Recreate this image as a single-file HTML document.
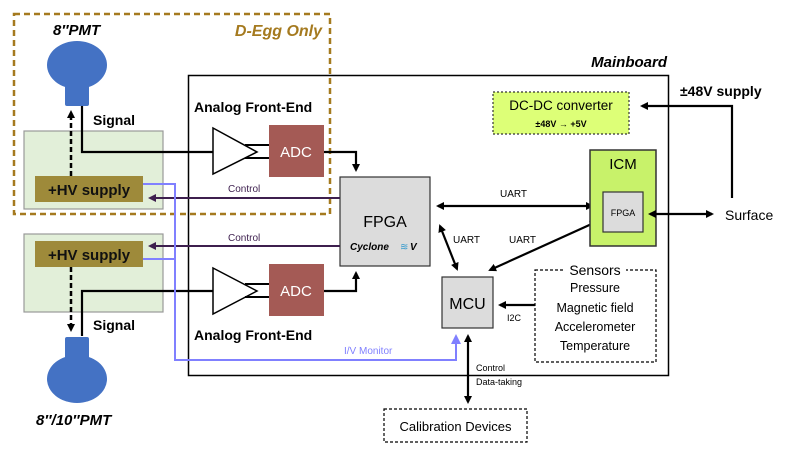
<!DOCTYPE html>
<html><head><meta charset="utf-8"><style>
html,body{margin:0;padding:0;background:#fff;}
svg{display:block;font-family:"Liberation Sans",sans-serif;}
</style></head><body>
<svg width="789" height="456" viewBox="0 0 789 456" xmlns="http://www.w3.org/2000/svg">
<defs>
<marker id="ab" markerWidth="8" markerHeight="8" refX="6" refY="4" orient="auto-start-reverse" markerUnits="userSpaceOnUse"><path d="M0,0 L8,4 L0,8 z" fill="#000"/></marker>
<marker id="ap" markerWidth="8" markerHeight="8" refX="6" refY="4" orient="auto-start-reverse" markerUnits="userSpaceOnUse"><path d="M0,0 L8,4 L0,8 z" fill="#3d1f4e"/></marker>
<marker id="abl" markerWidth="10" markerHeight="10" refX="7" refY="5" orient="auto" markerUnits="userSpaceOnUse"><path d="M0,0 L10,5 L0,10 z" fill="#8080ff"/></marker>
</defs>

<rect x="188.5" y="75.5" width="480" height="300" fill="none" stroke="#000" stroke-width="1.5"/>
<text x="667" y="67" text-anchor="end" font-size="15" font-style="italic" font-weight="bold">Mainboard</text>

<rect x="24" y="131" width="139" height="78" fill="#e2efd9" stroke="#999" stroke-width="1.2"/>
<rect x="24" y="234" width="139" height="78" fill="#e2efd9" stroke="#999" stroke-width="1.2"/>

<rect x="14" y="14" width="316" height="200" fill="none" stroke="#a57a1f" stroke-width="2.5" stroke-dasharray="6,4"/>
<text x="53" y="35" font-size="15" font-style="italic" font-weight="bold">8″PMT</text>
<text x="322" y="36" text-anchor="end" font-size="16" font-style="italic" font-weight="bold" fill="#a57a1f">D-Egg Only</text>

<ellipse cx="77" cy="65" rx="30" ry="24" fill="#4472c4"/>
<rect x="65" y="80" width="24" height="26" rx="2" fill="#4472c4"/>
<rect x="65" y="337" width="24" height="22" rx="2" fill="#4472c4"/>
<ellipse cx="77" cy="379" rx="30" ry="24" fill="#4472c4"/>
<text x="36" y="425" font-size="15" font-style="italic" font-weight="bold">8″/10″PMT</text>

<rect x="35" y="176" width="108" height="26" fill="#9e8a3a"/>
<text x="89" y="195" text-anchor="middle" font-size="15" font-weight="bold" fill="#111">+HV supply</text>
<rect x="35" y="241" width="108" height="26" fill="#9e8a3a"/>
<text x="89" y="260" text-anchor="middle" font-size="15" font-weight="bold" fill="#111">+HV supply</text>

<line x1="71" y1="176" x2="71" y2="112" stroke="#000" stroke-width="2.5" stroke-dasharray="5,3" marker-end="url(#ab)"/>
<line x1="71" y1="267" x2="71" y2="330" stroke="#000" stroke-width="2.5" stroke-dasharray="5,3" marker-end="url(#ab)"/>

<polyline points="82,106 82,152 213,152" fill="none" stroke="#000" stroke-width="2.2"/>
<polyline points="82,336 82,291 213,291" fill="none" stroke="#000" stroke-width="2.2"/>
<text x="93" y="125" font-size="14" font-weight="bold">Signal</text>
<text x="93" y="330" font-size="14" font-weight="bold">Signal</text>

<text x="194" y="112" font-size="14" font-weight="bold">Analog Front-End</text>
<text x="194" y="340" font-size="14" font-weight="bold">Analog Front-End</text>
<polygon points="213,128 257,152 213,174" fill="#fff" stroke="#000" stroke-width="1.5"/>
<line x1="245" y1="145" x2="269" y2="145" stroke="#000" stroke-width="2"/>
<line x1="245" y1="158" x2="269" y2="158" stroke="#000" stroke-width="2"/>
<rect x="269" y="125" width="55" height="52" fill="#a45a55"/>
<text x="296" y="157" text-anchor="middle" font-size="15" fill="#fff">ADC</text>
<polygon points="213,268 257,291 213,314" fill="#fff" stroke="#000" stroke-width="1.5"/>
<line x1="245" y1="284" x2="269" y2="284" stroke="#000" stroke-width="2"/>
<line x1="245" y1="297" x2="269" y2="297" stroke="#000" stroke-width="2"/>
<rect x="269" y="264" width="55" height="52" fill="#a45a55"/>
<text x="296" y="296" text-anchor="middle" font-size="15" fill="#fff">ADC</text>
<polyline points="324,152 356,152 356,170" fill="none" stroke="#000" stroke-width="2.2" marker-end="url(#ab)"/>
<polyline points="324,291 356,291 356,273" fill="none" stroke="#000" stroke-width="2.2" marker-end="url(#ab)"/>

<rect x="340" y="177" width="90" height="89" fill="#dcdcdc" stroke="#333" stroke-width="1.2"/>
<text x="385" y="227" text-anchor="middle" font-size="16">FPGA</text>
<text x="350" y="250" font-size="10" font-weight="bold" font-style="italic">Cyclone</text>
<text x="400" y="250" font-size="10" fill="#3399cc">≋</text>
<text x="410" y="250" font-size="10" font-weight="bold" font-style="italic">V</text>

<line x1="340" y1="198" x2="150" y2="198" stroke="#3d1f4e" stroke-width="2" marker-end="url(#ap)"/>
<text x="228" y="192" font-size="10" fill="#3d1f4e">Control</text>
<line x1="340" y1="246" x2="150" y2="246" stroke="#3d1f4e" stroke-width="2" marker-end="url(#ap)"/>
<text x="228" y="241" font-size="10" fill="#3d1f4e">Control</text>

<polyline points="143,184 175,184 175,360 456,360 456,337" fill="none" stroke="#8080ff" stroke-width="2" marker-end="url(#abl)"/>
<line x1="143" y1="259" x2="175" y2="259" stroke="#8080ff" stroke-width="2"/>
<text x="344" y="354" font-size="10" fill="#8080ff">I/V Monitor</text>

<rect x="442" y="277" width="51" height="51" fill="#dcdcdc" stroke="#333" stroke-width="1.2"/>
<text x="467.5" y="309" text-anchor="middle" font-size="16">MCU</text>

<line x1="438" y1="206" x2="592" y2="206" stroke="#000" stroke-width="2.2" marker-start="url(#ab)" marker-end="url(#ab)"/>
<text x="500" y="197" font-size="10">UART</text>
<line x1="440" y1="226" x2="457" y2="269" stroke="#000" stroke-width="2.2" marker-start="url(#ab)" marker-end="url(#ab)"/>
<text x="453" y="243" font-size="10">UART</text>
<line x1="490" y1="270" x2="596" y2="222" stroke="#000" stroke-width="2.2" marker-start="url(#ab)" marker-end="url(#ab)"/>
<text x="509" y="243" font-size="10">UART</text>

<rect x="590" y="150" width="66" height="96" fill="#c8f26a" stroke="#333" stroke-width="1.5"/>
<text x="623" y="169" text-anchor="middle" font-size="15">ICM</text>
<rect x="603" y="192" width="40" height="40" fill="#dcdcdc" stroke="#333" stroke-width="1.2"/>
<text x="623" y="216" text-anchor="middle" font-size="9">FPGA</text>

<line x1="650" y1="214" x2="712" y2="214" stroke="#000" stroke-width="2.2" marker-start="url(#ab)" marker-end="url(#ab)"/>
<text x="725" y="220" font-size="14">Surface</text>

<text x="680" y="96" font-size="14" font-weight="bold">±48V supply</text>
<polyline points="732,198 732,106 642,106" fill="none" stroke="#000" stroke-width="2.2" marker-end="url(#ab)"/>

<rect x="493" y="92" width="136" height="42" fill="#ddff77" stroke="#333" stroke-width="1.2" stroke-dasharray="2,2"/>
<text x="561" y="110" text-anchor="middle" font-size="13.5">DC-DC converter</text>
<text x="561" y="127" text-anchor="middle" font-size="9" font-weight="bold">±48V → +5V</text>

<rect x="535" y="270" width="121" height="92" fill="none" stroke="#000" stroke-width="1.2" stroke-dasharray="3,2"/>
<rect x="564" y="262" width="62" height="14" fill="#fff"/>
<text x="595" y="275" text-anchor="middle" font-size="14">Sensors</text>
<text x="595" y="292" text-anchor="middle" font-size="12.5">Pressure</text>
<text x="595" y="312" text-anchor="middle" font-size="12.5">Magnetic field</text>
<text x="595" y="331" text-anchor="middle" font-size="12.5">Accelerometer</text>
<text x="595" y="350" text-anchor="middle" font-size="12.5">Temperature</text>
<line x1="535" y1="305" x2="500" y2="305" stroke="#000" stroke-width="2.2" marker-end="url(#ab)"/>
<text x="507" y="321" font-size="9">I2C</text>

<line x1="468" y1="336" x2="468" y2="402" stroke="#000" stroke-width="2.2" marker-start="url(#ab)" marker-end="url(#ab)"/>
<text x="476" y="371" font-size="9">Control</text>
<text x="476" y="385" font-size="9">Data-taking</text>
<rect x="384" y="409" width="143" height="33" fill="#fff" stroke="#000" stroke-width="1.2" stroke-dasharray="3,2"/>
<text x="455.5" y="431" text-anchor="middle" font-size="13">Calibration Devices</text>
</svg>
</body></html>
